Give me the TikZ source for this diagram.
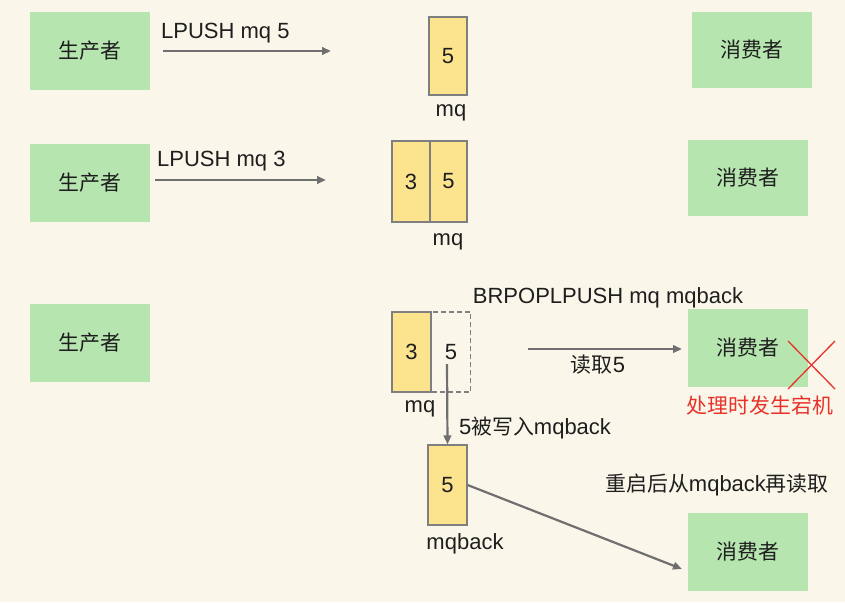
\documentclass[tikz,border=0pt]{standalone}
\usepackage{fontspec}
\setmainfont{Liberation Sans}
\newfontfamily\cjk[Scale=0.95]{Noto Sans CJK SC}
\usetikzlibrary{arrows.meta}
\definecolor{bgc}{HTML}{FAF7EA}
\definecolor{gfill}{HTML}{B6E5B0}
\definecolor{yfill}{HTML}{FCE38E}
\definecolor{ybord}{HTML}{7F7F7F}
\definecolor{arrc}{HTML}{6F6F6F}
\definecolor{txt}{HTML}{1E1E1E}
\definecolor{redc}{HTML}{E8322A}
\begin{document}
\begin{tikzpicture}[x=1pt,y=-1pt,
  every node/.style={text=txt, font=\fontsize{22}{26}\selectfont},
  gbox/.style={fill=gfill, draw=none, minimum width=120pt, minimum height=78pt, inner sep=0pt, font=\cjk\fontsize{22}{26}\selectfont},
  ycell/.style={fill=yfill, draw=ybord, line width=1.2pt, minimum width=38pt, minimum height=79pt, inner sep=0pt},
  dcell/.style={draw=ybord, dash pattern=on 5pt off 3pt, line width=1.2pt, minimum width=39pt, minimum height=79pt, inner sep=0pt},
  lbl/.style={inner sep=1pt},
  clbl/.style={inner sep=1pt, font=\cjk\fontsize{22}{26}\selectfont},
  arrowline/.style={draw=arrc, line width=2.2pt, -{Triangle[length=9pt,width=7.5pt]}},
  crossline/.style={draw=redc, line width=1.3pt}
]
\fill[bgc] (0,0) rectangle (845,602);
\useasboundingbox (0,0) rectangle (845,602);

% row 1
\node[gbox] (p1) at (90,51) {生产者};
\node[gbox, minimum height=76pt] (c1) at (752,50) {消费者};
\node[ycell, minimum height=78pt] (y1) at (448,56) {5};
\node[lbl] (mq1) at (451,113) {mq};
\coordinate (a1s) at (163,51);
\coordinate (a1e) at (331,51);
\draw[arrowline] (a1s) -- (a1e);
\node[lbl, anchor=west] (l1) at (160,33) {LPUSH mq 5};

% row 2
\node[gbox] (p2) at (90,183) {生产者};
\node[gbox, minimum height=76pt] (c2) at (748,178) {消费者};
\node[ycell, minimum height=81pt] (y2a) at (411,181.5) {3};
\node[ycell, minimum height=81pt, minimum width=37pt] (y2b) at (448.5,181.5) {5};
\node[lbl] (mq2) at (448,242) {mq};
\coordinate (a2s) at (155,180);
\coordinate (a2e) at (326,180);
\draw[arrowline] (a2s) -- (a2e);
\node[lbl, anchor=west] (l2) at (156,161) {LPUSH mq 3};

% row 3
\node[gbox] (p3) at (90,343) {生产者};
\node[gbox] (c3) at (748,348) {消费者};
\node[ycell, minimum height=80pt, minimum width=39pt] (y3a) at (411.5,352) {3};
\node[dcell, minimum height=80pt] (d3) at (451,352) {5};
\node[lbl] (mq3) at (420,409) {mq};
\node[lbl] (brp) at (608,298) {BRPOPLPUSH mq mqback};
\coordinate (a3s) at (528,349);
\coordinate (a3e) at (682,349);
\draw[arrowline] (a3s) -- (a3e);
\node[lbl] (rd) at (598,365) {{\cjk 读取}5};
\draw[crossline] (788,341) -- (835,389);
\draw[crossline] (835,341) -- (788,389);
\node[clbl, text=redc] (crash) at (760,406) {处理时发生宕机};

% mqback
\node[ycell, minimum height=80pt, minimum width=39pt] (ymb) at (447.5,485) {5};
\node[lbl] (mqb) at (465,544) {mqback};
\coordinate (vs) at (447,364);
\draw[arrowline] (vs) -- (ymb.north);
\node[lbl] (wr) at (535,428) {5{\cjk 被写入}mqback};
\node[gbox] (c4) at (748,552) {消费者};
\coordinate (de) at (682,569);
\draw[arrowline] (ymb.east) -- (de);
\node[lbl] (rs) at (717,485) {{\cjk 重启后从}mqback{\cjk 再读取}};
\end{tikzpicture}
\end{document}
